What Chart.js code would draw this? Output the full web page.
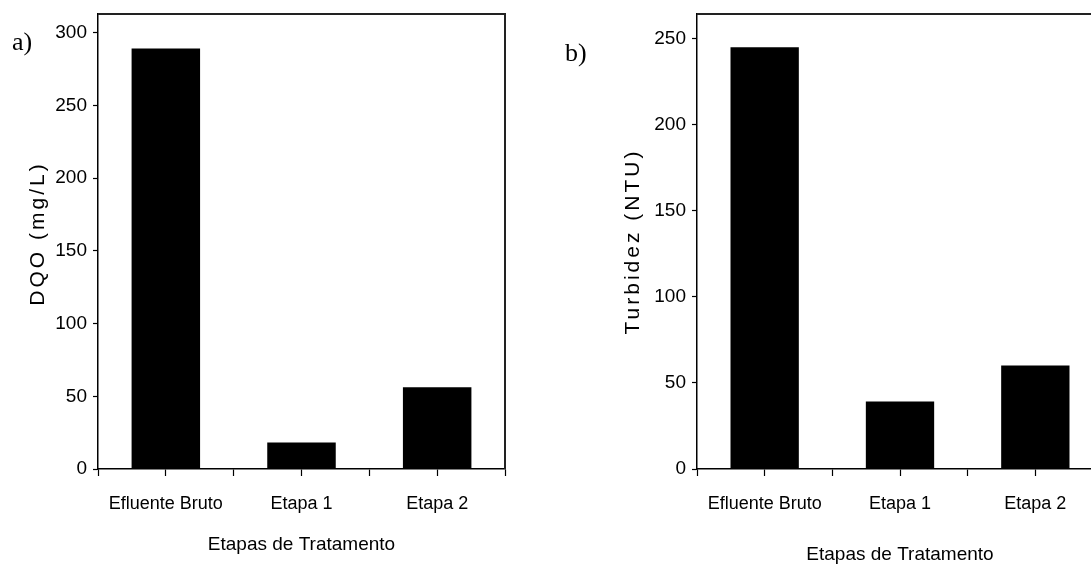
<!DOCTYPE html>
<html>
<head>
<meta charset="utf-8">
<script src="https://cdn.jsdelivr.net/npm/chart.js@4.4.1/dist/chart.umd.min.js"></script>
<style>
html, body { margin: 0; padding: 0; background: #fff; overflow: hidden; width: 1091px; height: 566px; }
.panel { position: absolute; top: 0; }
#boxA { left: 0; }
#boxB { left: 545px; }
.tag { position: absolute; font-family: "Liberation Serif", "Times New Roman", serif; font-size: 26px; line-height: 26px; color: #000; }
</style>
</head>
<body>
<div class="panel" id="boxA"><canvas id="chartA" width="545" height="566"></canvas></div>
<div class="panel" id="boxB"><canvas id="chartB" width="600" height="566"></canvas></div>
<div class="tag" style="left:12px; top:29px;">a)</div>
<div class="tag" style="left:565px; top:40px;">b)</div>
<script>
// Data
const categories = ['Efluente Bruto', 'Etapa 1', 'Etapa 2'];
const dqoValues = [289, 18, 56];
const turbidezValues = [245, 39, 60];
const xTitle = 'Etapas de Tratamento';
const dqoTitle = 'DQO (mg/L)';
const turbidezTitle = 'Turbidez (NTU)';

const labelFont = '"Liberation Sans", Arial, sans-serif';

Chart.defaults.color = '#000';
Chart.defaults.animation = false;

// Draw the y title with some letter spacing (and optional shift along the axis)
const spacedTitle = {
    id: 'spacedTitle',
    beforeDraw: function(chart, args, opts) {
        const scale = chart.scales.y;
        if (scale._spaced)
            return;
        const orig = scale.drawTitle;
        scale.drawTitle = function() {
            const ctx = this.ctx;
            ctx.save();
            ctx.letterSpacing = '3px';
            ctx.translate(0, opts.shift || 0);
            orig.call(this);
            ctx.restore();
        };
        scale._spaced = true;
    },
};

// Top and right border of the plot area
const frameBox = {
    id: 'frameBox',
    afterDraw: function(chart) {
        const {ctx, chartArea} = chart;
        ctx.save();
        ctx.strokeStyle = '#222';
        ctx.lineWidth = 2;
        ctx.beginPath();
        ctx.moveTo(chartArea.left, chartArea.top);
        ctx.lineTo(chartArea.right, chartArea.top);
        ctx.lineTo(chartArea.right, chartArea.bottom);
        ctx.stroke();
        ctx.restore();
    },
};

function makeChart(id, values, yTitle, geo) {
    'use strict';
    const ctx = document.getElementById(id).getContext('2d');
    return new Chart(ctx, {
        type: 'bar',
        data: {
            datasets: [{
                data: values.map((v, i) => ({x: i, y: v})),
                backgroundColor: '#000',
                borderWidth: 0,
                // ticks every half step, so the smallest gap is 0.5
                barPercentage: 1,
                categoryPercentage: 1,
            }],
        },
        options: {
            responsive: false,
            layout: {
                padding: {left: 0, top: 14, right: geo.right, bottom: 0},
            },
            plugins: {
                legend: {display: false},
                tooltip: {enabled: false},
                spacedTitle: {shift: geo.yTitleShift},
            },
            scales: {
                x: {
                    type: 'linear',
                    min: -0.5,
                    max: 2.5,
                    offset: false,
                    afterFit: function(scale) {
                        scale.height = 97;
                        scale.paddingLeft = 0;
                        scale.paddingRight = 0;
                    },
                    border: {color: '#000', width: 1.5},
                    grid: {
                        offset: false,
                        drawOnChartArea: false,
                        tickLength: 7,
                        color: '#000',
                        tickWidth: 1.2,
                    },
                    ticks: {
                        stepSize: 0.5,
                        autoSkip: false,
                        maxRotation: 0,
                        padding: 17,
                        font: {family: labelFont, size: 18},
                        callback: function(v) {
                            return Number.isInteger(v) ? categories[v] : '';
                        },
                    },
                    title: {
                        display: true,
                        text: xTitle,
                        font: {family: labelFont, size: 19},
                        padding: {top: 0, bottom: geo.xTitlePad},
                    },
                },
                y: {
                    min: 0,
                    max: geo.yMax,
                    afterFit: function(scale) {
                        scale.width = geo.yWidth;
                        scale.paddingTop = 0;
                        scale.paddingBottom = 0;
                    },
                    border: {color: '#000', width: 1.5},
                    grid: {
                        drawOnChartArea: false,
                        tickLength: 5,
                        color: '#000',
                        tickWidth: 1.2,
                    },
                    ticks: {
                        stepSize: 50,
                        includeBounds: false,
                        padding: 6,
                        font: {family: labelFont, size: 19},
                    },
                    title: {
                        display: true,
                        text: yTitle,
                        font: {family: labelFont, size: 21},
                        padding: {top: geo.yTitlePad, bottom: 0},
                    },
                },
            },
        },
        plugins: [spacedTitle, frameBox],
    });
}

makeChart('chartA', dqoValues, dqoTitle, {
    right: 40, yWidth: 98, yMax: 313, yTitlePad: 26, xTitlePad: 10, yTitleShift: -8,
});
makeChart('chartB', turbidezValues, turbidezTitle, {
    right: 42, yWidth: 152, yMax: 264.5, yTitlePad: 76, xTitlePad: 0, yTitleShift: 0,
});
</script>
</body>
</html>
